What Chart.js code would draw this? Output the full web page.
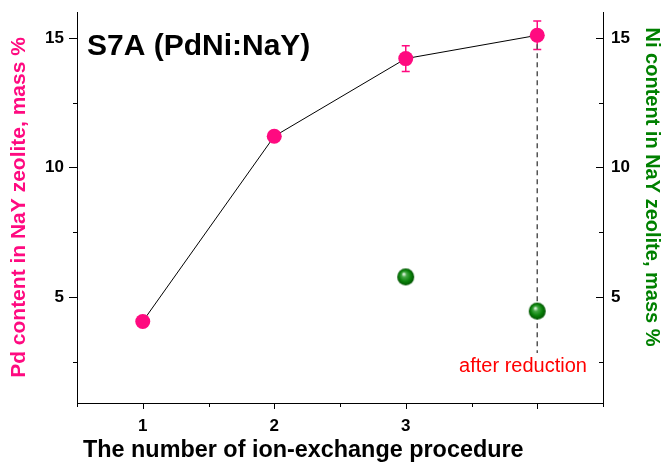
<!DOCTYPE html>
<html lang="en">
<head>
<meta charset="UTF-8">
<title>S7A (PdNi:NaY)</title>
<script src="https://cdn.jsdelivr.net/npm/chart.js"></script>
<style>
  body { margin: 0; background: #fff; }
  #wrap { width: 668px; height: 462px; }
</style>
</head>
<body>
<div id="wrap"><canvas id="chart" width="668" height="462"></canvas></div>
<script>
// number of ion-exchange procedure
var steps = [1, 2, 3, 4];
// Pd content, mass % (left axis) and its error bars
var pdContent = [4.05, 11.2, 14.2, 15.1];
var pdError = [null, null, 0.5, 0.55];
// Ni content, mass % (right axis)
var niSteps = [3, 4];
var niContent = [5.77, 4.45];
// dashed guide down to "after reduction"
var guideX = [4, 4];
var guideY = [15.1, 2.83];
// ticks
var xTicks = [0.5, 1, 1.5, 2, 2.5, 3, 3.5, 4, 4.5];
var xMajor = [1, 2, 3, 4];
var xLabelled = [1, 2, 3];
var yTicks = [2.5, 5, 7.5, 10, 12.5, 15];
var yMajor = [5, 10, 15];

var FONT = "'Liberation Sans', Arial, sans-serif";
var PINK = '#ff0a80';
var GREEN = '#008000';

// green glass ball used as point style
function makeSphere(r) {
    var c = document.createElement('canvas');
    c.width = c.height = 2 * r + 2;
    var g = c.getContext('2d');
    var cx = r + 1;
    var grad = g.createRadialGradient(cx - 2, cx - 3, 0.5, cx, cx, r);
    grad.addColorStop(0, '#e6f7e6');
    grad.addColorStop(0.25, '#45a845');
    grad.addColorStop(0.65, '#0a820a');
    grad.addColorStop(1, '#005200');
    g.fillStyle = grad;
    g.beginPath();
    g.arc(cx, cx, r, 0, Math.PI * 2);
    g.fill();
    return c;
}

// fixed axis box sizes, no extra label padding
function fixWidth(v) {
    return function (scale) { scale.width = v; scale.paddingTop = 0; scale.paddingBottom = 0; };
}
function fixHeight(v) {
    return function (scale) { scale.height = v; scale.paddingLeft = 0; scale.paddingRight = 0; };
}

function setTicks(values) {
    return function (scale) { scale.ticks = values.map(function (v) { return { value: v }; }); };
}

// error bars under the pink markers
var errorBars = {
    id: 'errorBars',
    beforeDatasetsDraw: function (chart) {
        var ctx = chart.ctx, x = chart.scales.x, y = chart.scales.y;
        ctx.save();
        ctx.strokeStyle = PINK;
        ctx.lineWidth = 1.5;
        steps.forEach(function (s, i) {
            if (pdError[i] == null) return;
            var px = x.getPixelForValue(s);
            var top = y.getPixelForValue(pdContent[i] + pdError[i]);
            var bot = y.getPixelForValue(pdContent[i] - pdError[i]);
            ctx.beginPath();
            ctx.moveTo(px, top); ctx.lineTo(px, bot);
            ctx.moveTo(px - 4, top); ctx.lineTo(px + 4, top);
            ctx.moveTo(px - 4, bot); ctx.lineTo(px + 4, bot);
            ctx.stroke();
        });
        ctx.restore();
    }
};

// tick marks: left and bottom outward, right inward
var tickMarks = {
    id: 'tickMarks',
    afterDraw: function (chart) {
        var ctx = chart.ctx, a = chart.chartArea;
        var x = chart.scales.x, y = chart.scales.y, y2 = chart.scales.y2;
        ctx.save();
        ctx.strokeStyle = '#000';
        ctx.lineWidth = 1;
        ctx.beginPath();
        xTicks.forEach(function (v) {
            var px = Math.round(x.getPixelForValue(v)) + 0.5;
            var len = xMajor.indexOf(v) >= 0 ? 6 : 4;
            ctx.moveTo(px, a.bottom); ctx.lineTo(px, a.bottom + len);
        });
        yTicks.forEach(function (v) {
            var py = Math.round(y.getPixelForValue(v)) + 0.5;
            var len = yMajor.indexOf(v) >= 0 ? 8 : 4;
            ctx.moveTo(a.left, py); ctx.lineTo(a.left - len, py);
            var py2 = Math.round(y2.getPixelForValue(v)) + 0.5;
            var len2 = yMajor.indexOf(v) >= 0 ? 7 : 4;
            ctx.moveTo(a.right, py2); ctx.lineTo(a.right - len2, py2);
        });
        ctx.stroke();
        ctx.restore();
    }
};

// free texts
var labels = {
    id: 'labels',
    afterDraw: function (chart) {
        var ctx = chart.ctx;
        ctx.save();
        ctx.textBaseline = 'alphabetic';
        ctx.textAlign = 'left';
        ctx.fillStyle = '#000';
        ctx.font = 'bold 30px ' + FONT;
        ctx.fillText('S7A (PdNi:NaY)', 87, 55);

        ctx.font = 'bold 23.4px ' + FONT;
        ctx.fillText('The number of ion-exchange procedure', 83, 457);

        ctx.fillStyle = '#ff0000';
        ctx.font = '20px ' + FONT;
        ctx.textAlign = 'center';
        ctx.fillText('after reduction', 523, 372);

        ctx.translate(652, 187);
        ctx.rotate(Math.PI / 2);
        ctx.fillStyle = GREEN;
        ctx.font = 'bold 20px ' + FONT;
        ctx.textBaseline = 'middle';
        ctx.fillText('Ni content in NaY zeolite, mass %', 0, 0);
        ctx.restore();
    }
};

var tickFont = { family: FONT, size: 17, weight: 'bold' };

new Chart(document.getElementById('chart'), {
    type: 'line',
    data: {
        datasets: [
            {
                label: 'Pd',
                data: steps.map(function (s, i) { return { x: s, y: pdContent[i] }; }),
                yAxisID: 'y',
                borderColor: '#000',
                borderWidth: 1,
                pointRadius: 7.5,
                pointBorderWidth: 0,
                pointBackgroundColor: PINK,
                order: 1
            },
            {
                label: 'Ni',
                data: niSteps.map(function (s, i) { return { x: s, y: niContent[i] }; }),
                yAxisID: 'y2',
                showLine: false,
                pointStyle: makeSphere(8.5),
                pointRadius: 8.5,
                order: 2
            },
            {
                label: 'guide',
                data: guideX.map(function (s, i) { return { x: s, y: guideY[i] }; }),
                yAxisID: 'y',
                borderColor: '#555',
                borderWidth: 1.5,
                borderDash: [5, 4],
                pointRadius: 0,
                order: 3
            }
        ]
    },
    options: {
        responsive: false,
        animation: false,
        layout: { padding: { top: 12, left: 0, right: 0, bottom: 0 } },
        plugins: { legend: { display: false }, tooltip: { enabled: false } },
        scales: {
            x: {
                type: 'linear',
                min: 0.5, max: 4.5,
                afterBuildTicks: setTicks(xTicks),
                afterFit: fixHeight(59),
                grid: { drawOnChartArea: false, drawTicks: false, tickLength: 0 },
                border: { color: '#000', width: 1 },
                ticks: {
                    autoSkip: false, maxRotation: 0, padding: 13,
                    color: '#000', font: tickFont,
                    callback: function (v) { return xLabelled.indexOf(v) >= 0 ? String(v) : ''; }
                }
            },
            y: {
                position: 'left',
                min: 0.9, max: 16,
                afterBuildTicks: setTicks(yTicks),
                afterFit: fixWidth(77),
                grid: { drawOnChartArea: false, drawTicks: false, tickLength: 0 },
                border: { color: '#000', width: 1 },
                title: {
                    display: true,
                    text: 'Pd content in NaY zeolite, mass %',
                    color: PINK,
                    font: { family: FONT, size: 21, weight: 'bold' },
                    padding: { top: 7, bottom: 0 }
                },
                ticks: {
                    padding: 13, color: '#000', font: tickFont,
                    callback: function (v) { return yMajor.indexOf(v) >= 0 ? String(v) : ''; }
                }
            },
            y2: {
                position: 'right',
                min: 0.9, max: 16,
                afterBuildTicks: setTicks(yTicks),
                afterFit: fixWidth(65),
                grid: { drawOnChartArea: false, drawTicks: false, tickLength: 0 },
                border: { color: '#000', width: 1 },
                ticks: {
                    padding: 8, color: '#000', font: tickFont,
                    callback: function (v) { return yMajor.indexOf(v) >= 0 ? String(v) : ''; }
                }
            }
        }
    },
    plugins: [errorBars, tickMarks, labels]
});
</script>
</body>
</html>
